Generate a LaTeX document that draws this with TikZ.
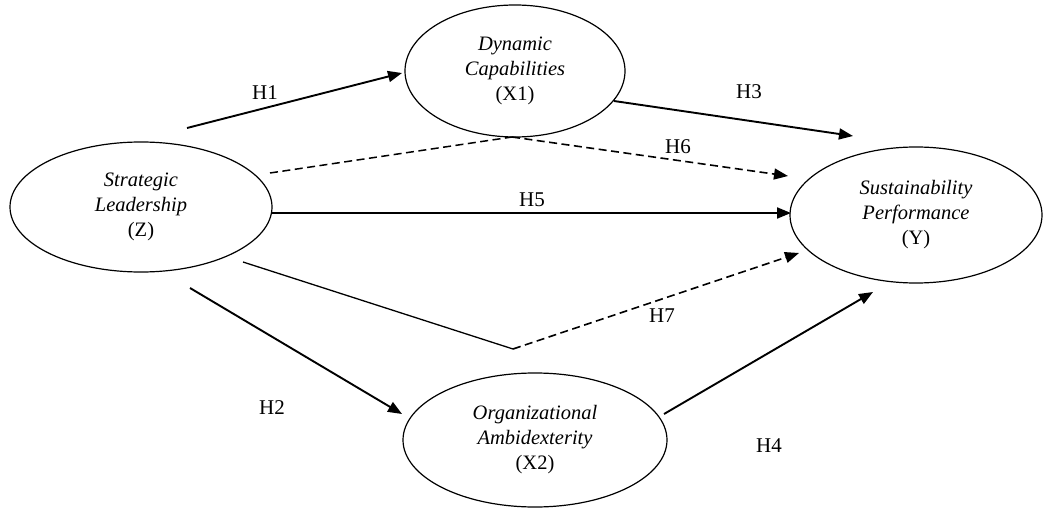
\documentclass[tikz,border=0pt]{standalone}
\usepackage{fontspec}
\setmainfont{Liberation Serif}
\usetikzlibrary{shapes.geometric,arrows.meta}
\begin{document}
\begin{tikzpicture}[x=1pt,y=-1pt,
  latent/.style={draw,ellipse,line width=1.2pt,inner sep=0pt,align=center,
    font=\fontsize{20.5}{25}\selectfont},
  path/.style={line width=1.9pt,-{Triangle[length=14pt,width=11pt]}},
  dpath/.style={line width=1.6pt,dash pattern=on 8pt off 4.5pt,-{Triangle[length=14pt,width=11pt]}},
  seg/.style={line width=1.3pt},
  dseg/.style={line width=1.5pt,dash pattern=on 8pt off 4.5pt},
  lab/.style={font=\fontsize{21}{22}\selectfont}]
\useasboundingbox (0,0) rectangle (1044,508);
\node[latent,minimum width=262pt,minimum height=130pt] (Z) at (141,207)
  {\textit{Strategic}\\\textit{Leadership}\\(Z)};
\node[latent,minimum width=220pt,minimum height=132pt] (X1) at (515,71)
  {\textit{Dynamic}\\\textit{Capabilities}\\(X1)};
\node[latent,minimum width=252pt,minimum height=136pt] (Y) at (916,215)
  {\textit{Sustainability}\\\textit{Performance}\\(Y)};
\node[latent,minimum width=264pt,minimum height=134pt] (X2) at (535,440)
  {\textit{Organizational}\\\textit{Ambidexterity}\\(X2)};
% coordinates
\coordinate (h1s) at (187,128);
\coordinate (h1e) at (402,73);
\coordinate (h3s) at (614,101);
\coordinate (h3e) at (853,136);
\coordinate (h6s) at (270,173);
\coordinate (h6m) at (512,137);
\coordinate (h6e) at (788,176);
\coordinate (h5s) at (272,213);
\coordinate (h5e) at (791,213);
\coordinate (h7s) at (243,262);
\coordinate (h7m) at (513,349);
\coordinate (h7e) at (799,253);
\coordinate (h2s) at (190,288);
\coordinate (h2e) at (402,414);
\coordinate (h4s) at (664,414);
\coordinate (h4e) at (873,292);
\draw[path] (h1s) -- (h1e);
\draw[path] (h3s) -- (h3e);
\draw[dseg] (h6s) -- (h6m);
\draw[dpath] (h6m) -- (h6e);
\draw[path] (h5s) -- (h5e);
\draw[seg] (h7s) -- (h7m);
\draw[dpath] (h7m) -- (h7e);
\draw[path] (h2s) -- (h2e);
\draw[path] (h4s) -- (h4e);
% labels
\node[lab] (lH1) at (265,93) {H1};
\node[lab] (lH3) at (749,92) {H3};
\node[lab] (lH6) at (678,147) {H6};
\node[lab] (lH5) at (532,200) {H5};
\node[lab] (lH7) at (662,316) {H7};
\node[lab] (lH2) at (272,408) {H2};
\node[lab] (lH4) at (769,446) {H4};
\end{tikzpicture}
\end{document}
